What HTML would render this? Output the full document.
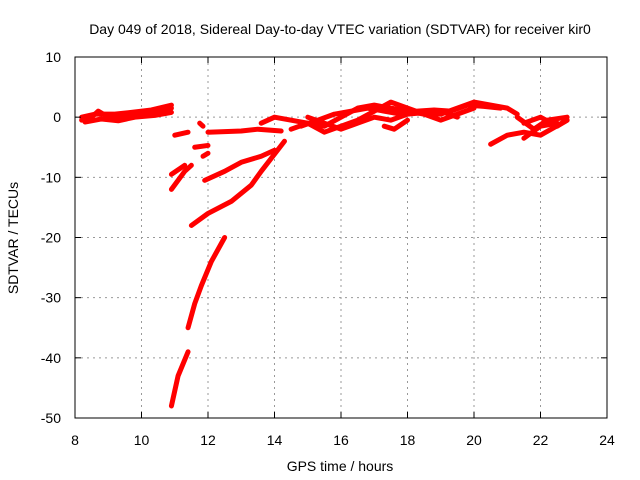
<!DOCTYPE html>
<html><head><meta charset="utf-8"><style>
body{margin:0;background:#fff}
svg{display:block;font-family:"Liberation Sans",sans-serif}
</style></head><body>
<svg id="c" width="640" height="480">
<text x="340" y="34" font-size="14" text-anchor="middle">Day 049 of 2018, Sidereal Day-to-day VTEC variation (SDTVAR) for receiver kir0</text>
<text x="340" y="471" font-size="14" text-anchor="middle">GPS time / hours</text>
<text transform="translate(18,238) rotate(-90)" font-size="14" text-anchor="middle">SDTVAR / TECUs</text>
<g id="grid"></g><g id="marks"></g>
<rect x="75" y="57" width="532" height="361" fill="none" stroke="#000" stroke-width="1"/>
<g id="ticks"></g>
</svg>
<script>
const xTicks=[8,10,12,14,16,18,20,22,24];
const yTicks=[10,0,-10,-20,-30,-40,-50];
const segA=[[8.2,-0.5],[8.5,0],[8.7,1],[9,0],[9.5,0.3],[10,0.7],[10.5,1],[10.9,1.5]];
const segB=[[8.3,-0.8],[8.8,-0.3],[9.3,-0.6],[9.8,0],[10.4,0.3],[10.9,0.8]];
const segB2=[[8.2,0],[8.6,0.5],[9.2,0.5],[9.7,0.8],[10.3,1.2],[10.9,2]];
const segC=[[11.0,-3],[11.4,-2.5]];
const segD=[[11.6,-5],[12,-4.7]];
const segE=[[11.75,-1],[11.85,-1.5]];
const segF=[[12,-2.5],[13,-2.3],[13.5,-2],[14.2,-2.3]];
const segG=[[10.9,-12],[11.3,-9],[11.5,-8]];
const segH=[[10.9,-9.5],[11.3,-8]];
const segI=[[11.85,-6.5],[12.0,-6]];
const segJ=[[11.9,-10.5],[12.5,-9],[13,-7.5],[13.6,-6.5],[14,-5.5]];
const segK=[[11.5,-18],[12,-16],[12.7,-14],[13.3,-11.3],[13.6,-9],[14.3,-4]];
const segL=[[11.4,-35],[11.6,-31],[11.8,-28],[12.1,-24],[12.5,-20]];
const segM=[[10.9,-48],[11.1,-43],[11.4,-39]];
const segN=[[13.6,-1],[14,0],[14.5,-0.5],[15,-1],[15.5,-1.5],[16,0],[16.5,1.5],[17,2],[17.5,1.5],[18,1],[18.5,0.5],[19,0.5],[19.5,1.5],[20,2.5],[20.5,2],[21,1.5],[21.3,0.5]];
const segO=[[14.5,-2],[15,-1],[15.5,-2.5],[16,-1.5],[16.5,-0.5],[17,1],[17.5,2.5],[18,1.5],[18.5,0.5],[19,-0.5],[19.5,0.5],[20,1.5]];
const segP=[[15,0],[15.5,-1],[16,-2],[16.5,-1],[17,0],[17.5,-0.5],[18,0.5],[19,1],[19.5,0]];
const segP2=[[14.8,-1.5],[15.3,-0.5],[15.8,0.5],[16.3,1],[16.8,1.5],[17.3,1],[17.8,0.5],[18.3,1],[18.8,1.2],[19.3,1],[19.8,2],[20.3,1.8],[20.8,1.5]];
const segQ=[[17.3,-1.5],[17.6,-2],[18,-0.5]];
const segR=[[20.5,-4.5],[21,-3],[21.5,-2.5],[22,-3],[22.8,-0.5]];
const segS=[[21.3,0],[21.8,-2],[22.2,-0.5],[22.8,0]];
const segT=[[21.5,-3.5],[22,-1.5],[22.5,-1]];
const segU=[[21.5,-1],[22,0],[22.5,-1.5],[22.8,-0.5]];
const series=[segA,segB,segB2,segC,segD,segE,segF,segG,segH,segI,segJ,segK,segL,segM,segN,segO,segP,segP2,segQ,segR,segS,segT,segU];
const X=t=>75+(t-8)*532/16;
const Y=v=>418-(v+50)*361/60;
const NS="http://www.w3.org/2000/svg";
const grid=document.getElementById('grid'),ticks=document.getElementById('ticks'),marks=document.getElementById('marks');
function mk(tag,attrs,parent){const e=document.createElementNS(NS,tag);for(const k in attrs)e.setAttribute(k,attrs[k]);parent.appendChild(e);return e;}
xTicks.forEach(t=>{
  const x=X(t);
  if(t>8&&t<24){const g=mk('line',{x1:x,x2:x,y1:57,y2:418,stroke:'#999','stroke-dasharray':'2,4'},grid);
  
  }
  mk('line',{x1:x,x2:x,y1:418,y2:412,stroke:'#000'},ticks);
  mk('line',{x1:x,x2:x,y1:57,y2:63,stroke:'#000'},ticks);
  const l=mk('text',{x:x,y:445,'font-size':14,'text-anchor':'middle'},ticks);l.textContent=t;
  
  
});
yTicks.forEach(v=>{
  const y=Y(v);
  if(v>-50&&v<10){const g=mk('line',{x1:75,x2:607,y1:y,y2:y,stroke:'#999','stroke-dasharray':'2,4'},grid);
  
  }
  mk('line',{x1:75,x2:81,y1:y,y2:y,stroke:'#000'},ticks);
  mk('line',{x1:607,x2:601,y1:y,y2:y,stroke:'#000'},ticks);
  const l=mk('text',{x:61,y:y+5,'font-size':14,'text-anchor':'end'},ticks);l.textContent=v;
  
  
});
series.forEach((s,i)=>{
  const p=mk('polyline',{points:s.map(d=>X(d[0])+','+Y(d[1])).join(' '),fill:'none',stroke:'#f00','stroke-width':5,'stroke-linejoin':'round','stroke-linecap':'round'},marks);
  
  
});
</script>
</body></html>
